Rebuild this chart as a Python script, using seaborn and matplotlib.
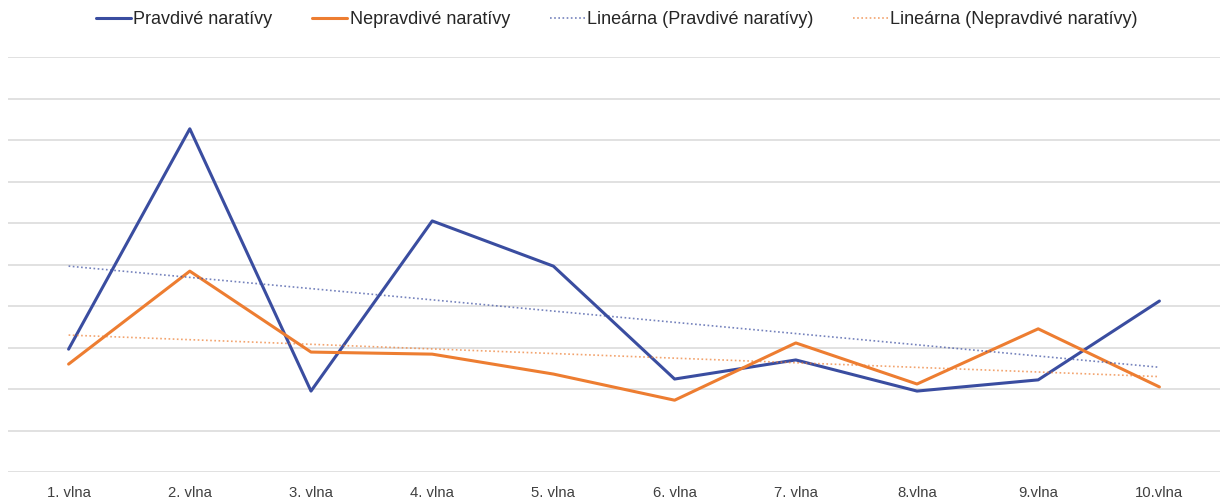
import matplotlib
matplotlib.use("Agg")
import matplotlib.pyplot as plt
import seaborn as sns
import numpy as np
import pandas as pd

# values (grid units, no y labels shown)
waves = ["1. vlna", "2. vlna", "3. vlna", "4. vlna", "5. vlna",
         "6. vlna", "7. vlna", "8.vlna", "9.vlna", "10.vlna"]
pravdive = [2.96, 8.27, 1.95, 6.05, 4.96, 2.24, 2.70, 1.95, 2.22, 4.12]
nepravdive = [2.60, 4.84, 2.89, 2.84, 2.36, 1.73, 3.11, 2.12, 3.45, 2.05]

blue = "#3A4DA0"
orange = "#ED7D31"

sns.set_theme(style="white")
plt.rcParams["font.family"] = ["Liberation Sans", "DejaVu Sans"]

x = np.arange(1, len(waves) + 1)
df = pd.DataFrame({"x": x, "Pravdivé naratívy": pravdive, "Nepravdivé naratívy": nepravdive})

fig = plt.figure(figsize=(12.2, 5.01), dpi=100)
ax = fig.add_axes([8 / 1220, 29 / 501, 1212 / 1220, 415 / 501])

sns.lineplot(data=df, x="x", y="Pravdivé naratívy", color=blue, lw=2.2, ax=ax,
             label="Pravdivé naratívy")
sns.lineplot(data=df, x="x", y="Nepravdivé naratívy", color=orange, lw=2.2, ax=ax,
             label="Nepravdivé naratívy")

# linear trendlines like Excel
for vals, col, name in [(pravdive, blue, "Lineárna (Pravdivé naratívy)"),
                        (nepravdive, orange, "Lineárna (Nepravdivé naratívy)")]:
    k, q = np.polyfit(x, vals, 1)
    ax.plot(x, k * x + q, color=col, lw=1.2, ls=(0, (1, 1.5)), alpha=0.7, label=name)

ax.set_xlim(0.5, 10.5)
ax.set_ylim(0, 10)
ax.set_yticks(np.arange(0, 11, 1))
ax.yaxis.grid(True, color="#D9D9D9", lw=1.1)
ax.set_axisbelow(True)
ax.tick_params(axis="y", left=False, labelleft=False)
ax.set_xticks(x)
ax.set_xticklabels(waves, fontsize=10.7, color="#404040")
ax.tick_params(axis="x", length=0, pad=10)
ax.set_xlabel("")
ax.set_ylabel("")
for s in ax.spines.values():
    s.set_visible(False)

ax.legend(loc="center", bbox_to_anchor=(617 / 1220, 481 / 501), bbox_transform=fig.transFigure,
          ncol=4, frameon=False, fontsize=13, handlelength=1.95, handletextpad=0.12,
          columnspacing=2.2, labelcolor="#262626")

fig.savefig("out.png", dpi=100)
